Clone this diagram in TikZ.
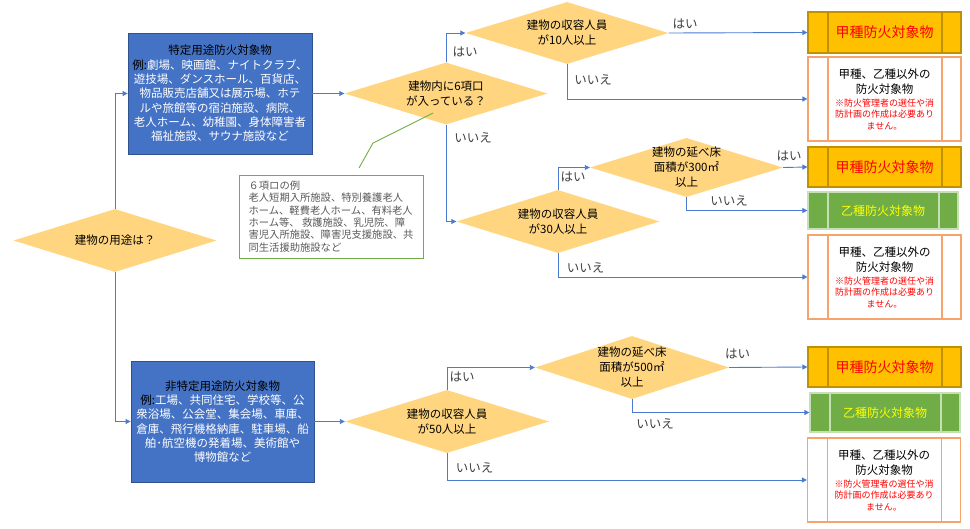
\documentclass[tikz,border=0pt]{standalone}
\usepackage{fontspec}
\setmainfont{Noto Sans CJK JP}
\usetikzlibrary{shapes.geometric,arrows.meta}
\definecolor{catBlue}{HTML}{4472C4}
\definecolor{catBlueEdge}{HTML}{2F528F}
\definecolor{askOrange}{HTML}{FFD57F}
\definecolor{flowBlue}{HTML}{4A7BD0}
\definecolor{koshuGold}{HTML}{FFC000}
\definecolor{koshuEdge}{HTML}{BF9000}
\definecolor{otsuGreen}{HTML}{70AD47}
\definecolor{otsuEdge}{HTML}{C5E0B4}
\definecolor{otherEdge}{HTML}{F4A46C}
\definecolor{noteGreen}{HTML}{70AD47}
\definecolor{lblGray}{HTML}{404040}
\definecolor{noteGray}{HTML}{595959}
\definecolor{warnRed}{HTML}{FF0000}
\definecolor{otsuText}{HTML}{FFFF00}
\newcommand{\warnline}[1]{{\color{warnRed}\fontsize{9}{11.5}\selectfont #1}}

\begin{document}
\begin{tikzpicture}[x=1pt, y=-1pt,
    decision/.style={shape=diamond, fill=askOrange, aspect=3.3, inner xsep=0pt, inner ysep=-12pt,
        minimum width=203pt, minimum height=62pt, align=center, text=black,
        font=\fontsize{11.5}{15}\selectfont},
    catbox/.style={fill=catBlue, draw=catBlueEdge, line width=0.8pt, text=white, align=center,
        inner sep=0pt, font=\fontsize{11.5}{14.3}\selectfont},
    resultbox/.style={draw=#1, line width=1.2pt, minimum width=153pt, align=center, inner sep=0pt,
        path picture={\draw[#1, line width=1.2pt]
            ([xshift=20pt]path picture bounding box.north west) -- ([xshift=20pt]path picture bounding box.south west)
            ([xshift=-19pt]path picture bounding box.north east) -- ([xshift=-19pt]path picture bounding box.south east);}},
    notebox/.style={draw=noteGreen, line width=0.9pt, align=left, text=noteGray, inner sep=0pt,
        minimum width=184pt, minimum height=83pt, font=\fontsize{10.3}{12.3}\selectfont},
    flow/.style={draw=flowBlue, line width=0.9pt, -{Triangle[width=5pt,length=5pt]}},
    answer/.style={text=lblGray, inner sep=0pt, font=\fontsize{12.5}{15}\selectfont}]
    \useasboundingbox (0,0) rectangle (970,528);

    % start and the two use categories
    \node[decision, minimum height=63pt] (usage) at (115,240.5) {建物の用途は？};
    \node[catbox, minimum width=184pt, minimum height=121pt] (tokutei) at (220,93.5)
        {{\color{black}特定用途防火対象物}\\{\color{black}例:}劇場、映画館、ナイトクラブ、\\遊技場、ダンスホール、百貨店、\\物品販売店舗又は展示場、ホテ\\ルや旅館等の宿泊施設、病院、\\老人ホーム、幼稚園、身体障害者\\福祉施設、サウナ施設など};
    \node[catbox, minimum width=183pt, minimum height=121pt] (hitokutei) at (222.5,421.5)
        {{\color{black}非特定用途防火対象物}\\{\color{black}例:}工場、共同住宅、学校等、公\\衆浴場、公会堂、集会場、車庫、\\倉庫、飛行機格納庫、駐車場、船\\舶･航空機の発着場、美術館や\\博物館など};

    % questions
    \node[decision] (q6) at (446,93.5) {建物内に6項口\\が入っている？};
    \node[decision] (q10) at (567,33) {建物の収容人員\\が10人以上};
    \node[decision, minimum height=63pt] (q30) at (558,221.5) {建物の収容人員\\が30人以上};
    \node[decision, minimum width=193pt, minimum height=59pt] (q300) at (686.5,167.5) {建物の延べ床\\面積が300㎡\\以上};
    \node[decision, minimum width=204pt, minimum height=63pt] (q50) at (447,421.5) {建物の収容人員\\が50人以上};
    \node[decision, minimum width=194pt, minimum height=63pt] (q500) at (632,367.5) {建物の延べ床\\面積が500㎡\\以上};

    % results
    \node[resultbox=koshuEdge, fill=koshuGold, minimum height=41pt, text=warnRed,
        font=\fontsize{14}{17}\selectfont] (koshuA) at (884.5,32.5) {甲種防火対象物};
    \node[resultbox=otherEdge, fill=white, minimum height=84pt, font=\fontsize{11.5}{15}\selectfont] (otherA) at (884.5,99)
        {甲種、乙種以外の\\防火対象物\\[-2pt]\warnline{※防火管理者の選任や消}\\[-3.5pt]\warnline{防計画の作成は必要あり}\\[-3.5pt]\warnline{ません。}};
    \node[resultbox=koshuEdge, fill=koshuGold, minimum height=40pt, text=warnRed,
        font=\fontsize{14}{17}\selectfont] (koshuB) at (884.5,167) {甲種防火対象物};
    \node[resultbox=otsuEdge, fill=otsuGreen, minimum width=150pt, minimum height=37pt, text=otsuText,
        font=\fontsize{12}{14}\selectfont] (otsuB) at (883,210.5) {乙種防火対象物};
    \node[resultbox=otherEdge, fill=white, minimum height=84pt, font=\fontsize{11.5}{15}\selectfont] (otherB) at (884.5,277)
        {甲種、乙種以外の\\防火対象物\\[-2pt]\warnline{※防火管理者の選任や消}\\[-3.5pt]\warnline{防計画の作成は必要あり}\\[-3.5pt]\warnline{ません。}};
    \node[resultbox=koshuEdge, fill=koshuGold, minimum height=40pt, text=warnRed,
        font=\fontsize{14}{17}\selectfont] (koshuC) at (884.5,367) {甲種防火対象物};
    \node[resultbox=otsuEdge, fill=otsuGreen, minimum width=150pt, minimum height=39pt, text=otsuText,
        font=\fontsize{12}{14}\selectfont] (otsuC) at (885,412.5) {乙種防火対象物};
    \node[resultbox=otherEdge, fill=white, minimum height=84pt, font=\fontsize{11.5}{15}\selectfont] (otherC) at (884,480)
        {甲種、乙種以外の\\防火対象物\\[-2pt]\warnline{※防火管理者の選任や消}\\[-3.5pt]\warnline{防計画の作成は必要あり}\\[-3.5pt]\warnline{ません。}};

    % note on 6-ro
    \node[notebox] (note) at (331,216.5)
        {６項ロの例\\老人短期入所施設、特別養護老人\\ホーム、軽費老人ホーム、有料老人\\ホーム等、 救護施設、乳児院、障\\害児入所施設、障害児支援施設、共\\同生活援助施設など};
    \coordinate (calloutA) at (359,168);
    \coordinate (calloutB) at (373,143);
    \coordinate (calloutC) at (433,113);
    \draw[noteGreen, line width=0.9pt] (calloutA) -- (calloutB) -- (calloutC);

    % connectors
    \draw[flow] (usage.north) |- (tokutei.west);
    \draw[flow] (usage.south) |- (hitokutei.west);
    \draw[flow] (tokutei.east) -- (q6.west);
    \draw[flow] (hitokutei.east) -- (q50.west);
    \draw[flow] (q6.north) |- (q10.west);
    \draw[flow] (q6.south) |- (q30.west);
    \draw[flow] (q10.east) -- (koshuA.west);
    \draw[flow] (q10.south) |- (otherA.west);
    \draw[flow] (q30.north) |- (q300.west);
    \draw[flow] (q30.south) |- (otherB.west);
    \draw[flow] (q300.east) -- (koshuB.west);
    \draw[flow] (q300.south) |- (otsuB.west);
    \draw[flow] (q50.north) |- (q500.west);
    \draw[flow] (q50.south) |- (otherC.west);
    \draw[flow] (q500.east) -- (koshuC.west);
    \draw[flow] (q500.south) |- (otsuC.west);

    % answers
    \node[answer] (a6yes) at (465,52) {はい};
    \node[answer] (a6no) at (473,138) {いいえ};
    \node[answer] (a10yes) at (685,24) {はい};
    \node[answer] (a10no) at (593,80) {いいえ};
    \node[answer] (a30yes) at (573,177) {はい};
    \node[answer] (a30no) at (585.5,268) {いいえ};
    \node[answer] (a300yes) at (789,156) {はい};
    \node[answer] (a300no) at (729,201) {いいえ};
    \node[answer] (a50yes) at (462,377) {はい};
    \node[answer] (a50no) at (474.5,468) {いいえ};
    \node[answer] (a500yes) at (737.5,354) {はい};
    \node[answer] (a500no) at (655,424) {いいえ};
\end{tikzpicture}
\end{document}
